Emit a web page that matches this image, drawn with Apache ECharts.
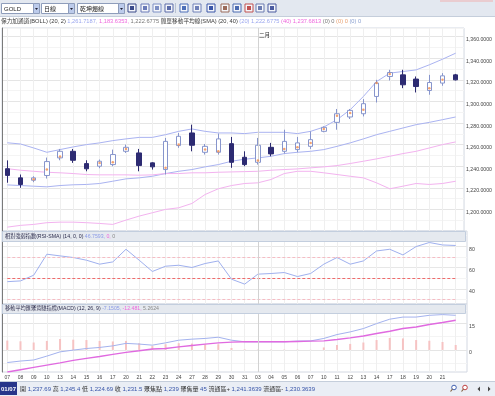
<!DOCTYPE html>
<html><head><meta charset="utf-8">
<script src="https://cdn.jsdelivr.net/npm/echarts@6/dist/echarts.min.js"></script>
<style>html,body{margin:0;padding:0;background:#fff;overflow:hidden}#c{width:495px;height:396px}</style>
</head><body><div id="c"></div>
<script>
const dates = ['01/07','01/08','01/09','01/10','01/13','01/14','01/15','01/16','01/17','01/20','01/21','01/22','01/23','01/24','01/27','01/28','01/29','01/30','01/31','02/03','02/04','02/05','02/06','02/07','02/10','02/11','02/12','02/13','02/14','02/17','02/18','02/19','02/20','02/21','02/24'];
const opens  = [1237.69,1229.2,1227.0,1231.4,1247.7,1253.8,1242.4,1240.0,1241.5,1253.8,1252.3,1243.1,1236.9,1259.1,1270.8,1252.9,1252.9,1260.9,1248.3,1243.6,1257.5,1253.8,1255.4,1258.4,1272.3,1280.6,1285.6,1288.6,1304.6,1323.1,1324.6,1320.7,1310.1,1317.0,1324.6];
const closes = [1231.5,1223.1,1229.2,1244.3,1253.8,1245.5,1237.6,1244.6,1250.8,1257.5,1240.6,1239.4,1263.0,1267.7,1259.4,1258.4,1265.3,1243.6,1241.5,1259.4,1251.4,1263.0,1261.6,1264.6,1276.0,1288.6,1291.7,1297.9,1317.0,1326.8,1315.4,1313.8,1317.5,1323.7,1320.0];
const lows   = [1224.69,1220.0,1225.2,1228.6,1245.5,1243.1,1235.3,1238.1,1240.0,1252.3,1235.3,1236.9,1232.3,1257.0,1253.8,1250.8,1250.8,1238.5,1240.0,1241.5,1249.2,1251.7,1252.9,1256.0,1271.4,1273.8,1283.7,1286.1,1299.0,1319.4,1312.3,1308.3,1306.2,1314.5,1319.4];
const highs  = [1245.4,1232.3,1230.7,1248.0,1256.0,1256.0,1245.5,1246.2,1255.4,1260.0,1256.0,1243.6,1266.2,1270.8,1278.5,1260.6,1270.2,1267.1,1253.8,1266.2,1261.6,1273.8,1267.1,1272.3,1276.9,1293.0,1293.0,1302.2,1320.0,1329.3,1329.3,1323.1,1324.6,1326.2,1325.5];
const focusPoints = [null,null,1228.0,1237.0,1249.0,null,null,1243.0,1243.6,1256.0,null,null,1238.5,1260.0,null,1255.4,1253.8,null,null,1245.2,null,1256.0,1257.5,1261.6,1274.5,1286.8,1289.3,1292.3,1317.0,1325.5,null,null,1312.3,1320.0,null];
const bollUpper = [1261.7,1260.6,1256.9,1252.9,1255.4,1257.9,1260.0,1261.6,1263.7,1265.3,1266.7,1266.7,1269.2,1272.3,1274.5,1272.3,1270.8,1270.8,1270.2,1271.4,1271.4,1271.4,1270.2,1272.3,1276.3,1283.1,1292.3,1304.6,1318.4,1326.2,1327.7,1329.2,1333.9,1339.1,1344.7];
const bollLower = [1183.6,1185.2,1186.1,1187.7,1188.2,1188.2,1187.7,1187.0,1186.1,1190.1,1193.8,1196.9,1200.0,1201.5,1205.5,1213.8,1219.1,1222.1,1224.0,1224.6,1227.7,1233.2,1235.3,1235.3,1233.9,1232.3,1230.7,1229.2,1224.6,1219.1,1221.5,1224.0,1223.1,1224.0,1226.1];
const sma20 = [1222.7,1222.1,1221.5,1220.9,1222.1,1222.8,1223.1,1224.0,1226.1,1228.3,1229.2,1230.7,1233.2,1235.3,1236.9,1239.4,1241.5,1244.6,1246.5,1247.7,1249.2,1251.7,1252.9,1253.8,1255.4,1258.4,1261.6,1265.3,1269.2,1272.3,1275.4,1278.5,1280.6,1283.1,1285.6];
const sma40 = [1237.7,1236.3,1235.3,1234.4,1233.9,1233.2,1232.3,1232.0,1232.0,1232.0,1231.7,1232.0,1233.2,1233.2,1233.9,1233.9,1234.4,1234.7,1235.0,1235.3,1236.3,1236.9,1237.5,1238.5,1239.4,1240.6,1242.5,1244.6,1246.8,1249.2,1251.7,1253.8,1256.9,1260.0,1262.5];
const rsi = [46.8,47.5,52.8,72.4,70.8,69.3,66.8,63.1,65.2,77.0,66.8,56.3,61.2,62.1,60.0,63.7,66.1,49.1,44.5,53.8,54.4,55.3,51.6,54.4,63.1,69.3,63.1,66.1,75.4,77.0,71.7,79.5,83.3,81.0,80.5];
const macd = [-7.15,-6.3,-5.7,-3.5,-1.1,-0.1,0.8,1.4,2.3,3.7,3.3,2.7,4.0,5.5,6.1,6.5,7.2,5.5,4.6,4.6,4.6,4.6,5.0,5.1,6.5,8.7,10.2,12.1,14.9,17.4,18.6,18.6,19.6,20.0,19.6];
const signal = [-12.48,-11.2,-9.9,-8.6,-7.3,-5.9,-4.8,-3.7,-2.5,-1.4,-0.5,0.5,0.8,1.7,2.5,3.3,4.0,4.4,4.6,4.6,4.6,4.6,4.8,5.0,5.1,5.9,6.8,7.9,9.3,10.6,12.1,13.0,14.4,15.5,16.8];
const hist = [5.3,4.9,4.2,5.1,6.2,5.8,5.6,5.1,4.8,5.1,3.8,2.2,3.2,3.8,3.6,3.2,3.2,1.1,0.3,0.2,0.2,0.2,0.2,0.1,1.4,2.8,3.4,4.2,5.6,6.8,6.5,5.6,5.2,4.5,2.8];
const mainTicks = [1200,1220,1240,1260,1280,1300,1320,1340,1360];
const rsiTicks = [40,60,80];
const rsiLevels = [70,50,30];
const macdTicks = [0,15];
const monthMark = {date:'02/03', label:'二月'};

const FF = '"Liberation Sans","Noto Sans CJK TC",sans-serif';
const chart = echarts.init(document.getElementById('c'));
const fmt4 = v => v.toLocaleString('en-US',{minimumFractionDigits:4,maximumFractionDigits:4});

const bgGrid = {show:true, borderColor:'#d3d8e2', borderWidth:1, backgroundColor:'#fff', left:2, right:28};
const dataGrid = {left:7.3, right:39.3};
const grids = [
  Object.assign({top:28, height:203}, bgGrid),
  Object.assign({top:28, height:203}, dataGrid),
  Object.assign({top:231, height:73}, bgGrid),
  Object.assign({top:231, height:73}, dataGrid),
  Object.assign({top:304, height:68}, bgGrid),
  Object.assign({top:304, height:68}, dataGrid)
];
function bgX(g){return {type:'value', gridIndex:g, min:0, max:1, show:false};}
function dataX(g, labels){
  return {type:'category', gridIndex:g, data:dates, boundaryGap:false,
    axisLine:{show:false}, axisTick:{show:false},
    axisLabel:{show:labels, fontSize:5, color:'#444', fontFamily:FF, margin:3,
      formatter:v=>v.slice(3), interval:(i)=>i<34},
    splitLine:{show:true, interval:0, lineStyle:{color:'#efefef', width:1}}};
}
const axisLbl = {fontSize:5.2, color:'#444', fontFamily:FF, margin:2, verticalAlign:'top', padding:[0.5,0,0,0]};
const yAxes = [
  {type:'value', gridIndex:0, position:'right', min:1180, max:1368, interval:10,
    axisLine:{show:true, lineStyle:{color:'#7a7a7a'}}, axisTick:{show:false},
    axisLabel:Object.assign({formatter:v=>mainTicks.includes(v)?fmt4(v):''}, axisLbl),
    splitLine:{show:true, lineStyle:{color:['#e5e5e5','#f4f4f4']}}},
  {type:'value', gridIndex:1, min:1180, max:1368, show:false},
  {type:'value', gridIndex:2, position:'right', min:26, max:94, interval:2,
    axisLine:{show:true, lineStyle:{color:'#7a7a7a'}}, axisTick:{show:false},
    axisLabel:Object.assign({formatter:v=>rsiTicks.includes(v)?String(v):''}, axisLbl),
    splitLine:{show:true, lineStyle:{color:['transparent','transparent','#f4f4f4','transparent','transparent','transparent','transparent','#e7e7e7','transparent','transparent']}}},
  {type:'value', gridIndex:3, min:26, max:94, show:false},
  {type:'value', gridIndex:4, position:'right', min:-12.5, max:26, interval:0.5,
    axisLine:{show:true, lineStyle:{color:'#7a7a7a'}}, axisTick:{show:false},
    axisLabel:Object.assign({formatter:v=>{const t=macdTicks.find(m=>Math.abs(m-v)<1e-6);return t===undefined?'':String(t);}}, axisLbl),
    splitLine:{show:true, lineStyle:{color:Array.from({length:30},(_,i)=>i===25?'#e5e5e5':(i===10?'#f4f4f4':'transparent'))}}},
  {type:'value', gridIndex:5, min:-12.5, max:26, show:false}
];
const monthLine = {silent:true, symbol:'none', label:{show:false},
  lineStyle:{color:'#d2d2d2', type:'solid', width:1}, data:[{xAxis:monthMark.date}]};
function line(name, data, x, y, color, w){
  return {name, type:'line', xAxisIndex:x, yAxisIndex:y, data, symbol:'none', silent:true,
    lineStyle:{color, width:w||1}, z:3};
}
const series = [
  {type:'candlestick', xAxisIndex:1, yAxisIndex:1, barWidth:5, clip:false, silent:true, z:4,
    data:dates.map((d,i)=>[opens[i],closes[i],lows[i],highs[i]]),
    itemStyle:{color:'#ffffff', color0:'#2d2b72', borderColor:'#8795cc', borderColor0:'#2d2b72', borderWidth:1},
    markLine:monthLine},
  line('BOLL上', bollUpper, 1, 1, '#aab3f1'),
  line('BOLL下', bollLower, 1, 1, '#f3b3ef'),
  line('SMA20', sma20, 1, 1, '#aab3f1'),
  line('SMA40', sma40, 1, 1, '#f3b3ef'),
  {type:'scatter', xAxisIndex:1, yAxisIndex:1, data:focusPoints, symbolSize:2.5, silent:true, z:6,
    itemStyle:{color:'#f08a4a'}},
  Object.assign(line('RSI', rsi, 3, 3, '#9fb0ee'), {markLine:{silent:true, symbol:'none', label:{show:false},
    data:[
      {yAxis:rsiLevels[0], lineStyle:{color:'#f5bcc4', type:[3,2], width:1}},
      {yAxis:rsiLevels[1], lineStyle:{color:'#ee6b6b', type:[3,2], width:1}},
      {yAxis:rsiLevels[2], lineStyle:{color:'#f5bcc4', type:[3,2], width:1}},
      {xAxis:monthMark.date, lineStyle:{color:'#d2d2d2', type:'solid', width:1}}
    ]}}),
  {type:'bar', xAxisIndex:5, yAxisIndex:5, data:hist, barWidth:2, silent:true,
    itemStyle:{color:'#f6c3c3'}, markLine:monthLine},
  line('MACD', macd, 5, 5, '#a3b2ee'),
  line('Signal', signal, 5, 5, '#e06ae0', 1.4)
];

function baseGraphics(){
  const g = [];
  const Z = 50;
  g.push({type:'rect', z:Z, shape:{x:0,y:0,width:495,height:16}, style:{fill:'#e3e8f0'}});
  g.push({type:'rect', z:Z, shape:{x:0,y:16,width:495,height:11}, style:{fill:'#ffffff'}});
  g.push({type:'line', z:Z, shape:{x1:0,y1:16.5,x2:495,y2:16.5}, style:{stroke:'#c5cedb',lineWidth:1}});
  const boxes = [{t:'GOLD',x:1,w:32},{t:'日線',x:41,w:27},{t:'乾坤燭線',x:77,w:41}];
  boxes.forEach(b=>{
    g.push({type:'rect', z:Z, shape:{x:b.x+0.5,y:3.5,width:b.w,height:10}, style:{fill:'#fff',stroke:'#8e9dbb',lineWidth:1}});
    g.push({type:'text', z:Z, style:{text:b.t, x:b.x+3, y:9, fill:'#222', fontSize:6, fontFamily:FF, verticalAlign:'middle'}});
    g.push({type:'rect', z:Z, shape:{x:b.x+b.w+0.5,y:3.5,width:6,height:10}, style:{fill:'#bccbeb',stroke:'#8e9dbb',lineWidth:1}});
    g.push({type:'polygon', z:Z, shape:{points:[[b.x+b.w+2,8],[b.x+b.w+5,8],[b.x+b.w+3.5,10]]}, style:{fill:'#223'}});
  });
  const icons = [128,141,153,165,180,193,207,221,233,245,256,268];
  const iconCols = ['#3a4a8a','#6a7ab8','#7d8fc4','#5a6aa8','#4d6fb8','#6f80b8','#3a56a8','#9a6a5a','#4a6ab0','#c05050','#6a7ab0','#4a5aa0'];
  icons.forEach((x,i)=>{
    g.push({type:'rect', z:Z, shape:{x:x,y:4,width:8,height:8}, style:{fill:'#f4f6fa',stroke:iconCols[i],lineWidth:1}});
    g.push({type:'rect', z:Z, shape:{x:x+2,y:6,width:4,height:4}, style:{fill:iconCols[i]}});
  });
  g.push({type:'line', z:Z, shape:{x1:175.5,y1:3,x2:175.5,y2:13}, style:{stroke:'#b8c2d2'}});
  g.push({type:'line', z:Z, shape:{x1:440,y1:1,x2:493,y2:1}, style:{stroke:'#f0b0b0',lineWidth:1}});
  const L = 5.7;
  g.push({type:'text', z:Z, style:{x:1, y:21.5, verticalAlign:'middle', fontSize:L, fontFamily:FF,
    text:'{d|保力加通道(BOLL) (20, 2) }{u|1,261.7187, }{p|1,183.6353, }{g|1,222.6775 }{d|簡單移動平均線(SMA) (20, 40) }{u|(20) 1,222.6775 }{p|(40) 1,237.6813 }{g|(0) 0 }{o|(0) 0 }{b|(0) 0}',
    rich:{d:{fill:'#3a3a3a',fontSize:L,fontFamily:FF},u:{fill:'#9aa6ee',fontSize:L,fontFamily:FF},p:{fill:'#ee66dd',fontSize:L,fontFamily:FF},
      g:{fill:'#777',fontSize:L,fontFamily:FF},o:{fill:'#e8a070',fontSize:L,fontFamily:FF},b:{fill:'#8aa0d0',fontSize:L,fontFamily:FF}}}});
  g.push({type:'rect', z:Z, shape:{x:2.5,y:231.5,width:463,height:10}, style:{fill:'#e5e9ef',stroke:'#c3cede',lineWidth:1}});
  g.push({type:'text', z:Z, style:{x:5, y:236.5, verticalAlign:'middle', fontSize:5.2, fontFamily:FF,
    text:'{d|相對強弱指數(RSI-SMA) (14, 0, 0) }{u|46.7593, }{p|0, }{g|0}',
    rich:{d:{fill:'#2a2a4a',fontSize:5.2,fontFamily:FF},u:{fill:'#8a9ae6',fontSize:5.2,fontFamily:FF},p:{fill:'#ee66dd',fontSize:5.2,fontFamily:FF},g:{fill:'#888',fontSize:5.2,fontFamily:FF}}}});
  g.push({type:'rect', z:Z, shape:{x:2.5,y:304.5,width:463,height:9}, style:{fill:'#e5e9ef',stroke:'#c3cede',lineWidth:1}});
  g.push({type:'text', z:Z, style:{x:5, y:309, verticalAlign:'middle', fontSize:5.2, fontFamily:FF,
    text:'{d|移動平均匯聚背馳指標(MACD) (12, 26, 9) }{u|-7.1505, }{p|-12.481, }{g|5.2624}',
    rich:{d:{fill:'#2a2a4a',fontSize:5.2,fontFamily:FF},u:{fill:'#8a9ae6',fontSize:5.2,fontFamily:FF},p:{fill:'#ee66dd',fontSize:5.2,fontFamily:FF},g:{fill:'#888',fontSize:5.2,fontFamily:FF}}}});
  g.push({type:'rect', z:Z, shape:{x:0,y:381,width:495,height:15}, style:{fill:'#eaeef5'}});
  g.push({type:'line', z:Z, shape:{x1:0,y1:381.5,x2:495,y2:381.5}, style:{stroke:'#c5cedb'}});
  g.push({type:'rect', z:Z, shape:{x:0,y:382,width:17,height:13}, style:{fill:'#27358a'}});
  g.push({type:'text', z:Z, style:{text:dates[0], x:8.5, y:389, align:'center', verticalAlign:'middle', fill:'#fff', fontSize:6, fontWeight:'bold', fontFamily:FF}});
  const S = 6;
  g.push({type:'text', z:Z, style:{x:20, y:389, verticalAlign:'middle', fontSize:S, fontFamily:FF,
    text:'{l|開 }{v|1,237.69 }{l|高 }{v|1,245.4 }{l|低 }{v|1,224.69 }{l|收 }{v|1,231.5 }{l|聚焦點 }{v|1,239 }{l|聚焦量 }{v|45 }{l|流通區+ }{v|1,241.3639 }{l|流通區- }{v|1,230.3639}',
    rich:{l:{fill:'#333',fontSize:S,fontFamily:FF},v:{fill:'#3653a8',fontSize:S,fontFamily:FF}}}});
  [452,463].forEach((x,i)=>{
    g.push({type:'circle', z:Z, shape:{cx:x+2,cy:387.5,r:2.3}, style:{fill:'#fff',stroke:i?'#c04040':'#4060b0',lineWidth:1}});
    g.push({type:'line', z:Z, shape:{x1:x+0.5,y1:389,x2:x-1.5,y2:391.5}, style:{stroke:'#806040',lineWidth:1.2}});
  });
  g.push({type:'polygon', z:Z, shape:{points:[[480,386.5],[480,391.5],[477.5,389]]}, style:{fill:'#444'}});
  g.push({type:'polygon', z:Z, shape:{points:[[488,386.5],[488,391.5],[490.5,389]]}, style:{fill:'#444'}});
  return g;
}

chart.setOption({
  animation:false,
  backgroundColor:'#ffffff',
  grid:grids,
  xAxis:[bgX(0), dataX(1,false), bgX(2), dataX(3,false), bgX(4), dataX(5,true)],
  yAxis:yAxes,
  series:series,
  graphic:baseGraphics()
});
const mx = chart.convertToPixel({xAxisIndex:1}, monthMark.date);
const gAll = baseGraphics();
gAll.push({type:'text', z:50, style:{text:monthMark.label, x:mx+1, y:35, verticalAlign:'middle', fill:'#333', fontSize:5.5, fontFamily:FF}});
chart.setOption({graphic:gAll});
</script></body></html>
